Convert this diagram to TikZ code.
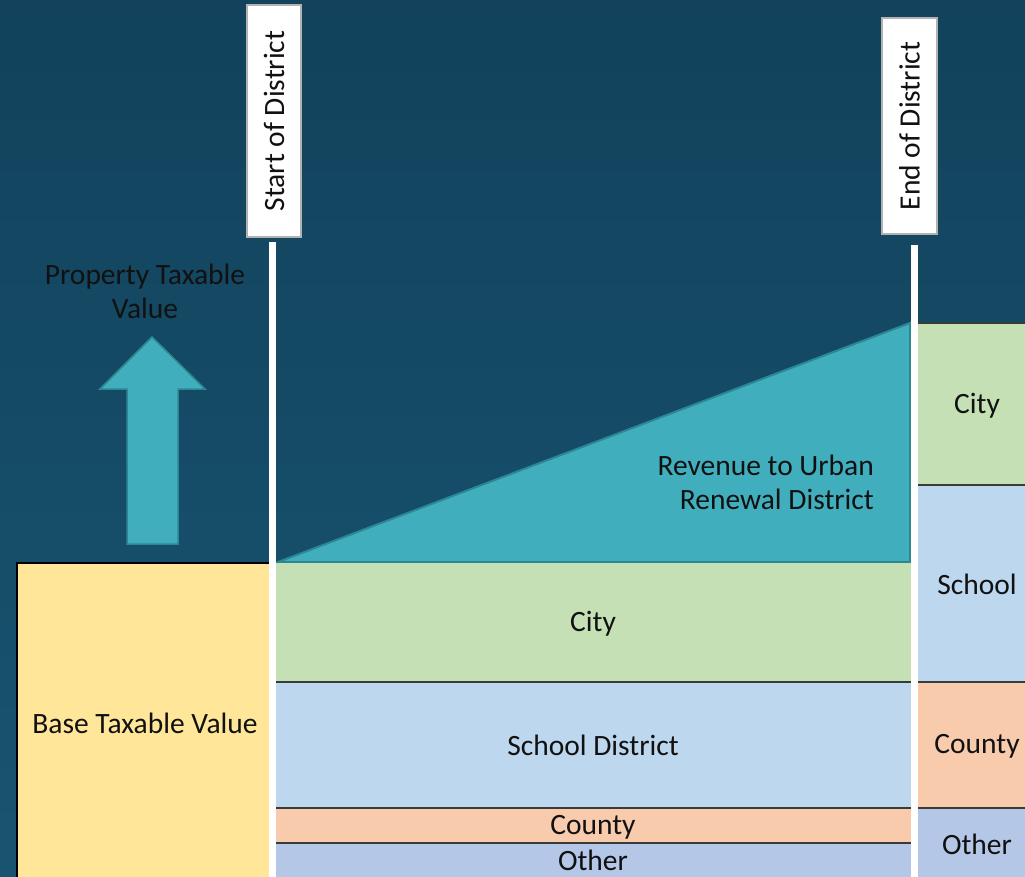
\documentclass[tikz,border=0pt]{standalone}
\usepackage{fontspec}
\setmainfont{Carlito}
\definecolor{bgtop}{HTML}{12425C}
\definecolor{bgbot}{HTML}{185470}
\definecolor{teal}{HTML}{41AEBD}
\definecolor{tealdark}{HTML}{2C8794}
\definecolor{citygreen}{HTML}{C5E0B4}
\definecolor{schoolblue}{HTML}{BDD7EE}
\definecolor{countypeach}{HTML}{F8CBAD}
\definecolor{otherblue}{HTML}{B4C7E7}
\definecolor{baseyellow}{HTML}{FFE699}
\definecolor{sepline}{HTML}{3A3A3A}
\definecolor{ink}{HTML}{111111}
\begin{document}
\begin{tikzpicture}[x=1pt,y=-1pt,font=\fontsize{29.5}{34}\selectfont]
\tikzset{
  band/.style={rectangle, inner sep=0pt, outer sep=0pt, anchor=north west},
  sepl/.style={draw=sepline, line width=1.6pt},
  marker/.style={draw=white, line width=6.5pt},
  tag/.style={rectangle, draw=gray!60, fill=white, line width=1.2pt,
              rotate=90, inner sep=0pt, text=ink},
  label/.style={text=ink, align=center, inner sep=0pt}
}
\useasboundingbox (0,0) rectangle (1025,877);
\shade[top color=bgtop, bottom color=bgbot] (0,0) rectangle (1025,877);

% rising value wedge captured by the district
\draw[fill=teal, draw=tealdark, line width=2pt]
  (278,562) -- (910,323) -- (910,562) -- cycle;
\node[label, anchor=east, align=right] (rev) at (874,482)
  {Revenue to Urban\\Renewal District};

% base value split among taxing bodies
\node[band, fill=citygreen, minimum width=635pt, minimum height=119pt] (city) at (276,563) {};
\node[band, fill=schoolblue, minimum width=635pt, minimum height=126pt] (school) at (276,682) {};
\node[band, fill=countypeach, minimum width=635pt, minimum height=35pt] (county) at (276,808) {};
\node[band, fill=otherblue, minimum width=635pt, minimum height=36pt] (other) at (276,843) {};
\draw[sepl] (city.south west) -- (city.south east);
\draw[sepl] (school.south west) -- (school.south east);
\draw[sepl] (county.south west) -- (county.south east);
\node[label] (citytxt) at (593,624) {City};
\node[label] (schooltxt) at (593,745) {School District};
\node[label] (countytxt) at (593,827) {County};
\node[label] (othertxt) at (593,860) {Other};

% column after the district ends
\node[band, fill=citygreen, minimum width=110pt, minimum height=162pt] (rcity) at (918,323) {};
\node[band, fill=schoolblue, minimum width=110pt, minimum height=197pt] (rschool) at (918,485) {};
\node[band, fill=countypeach, minimum width=110pt, minimum height=126pt] (rcounty) at (918,682) {};
\node[band, fill=otherblue, minimum width=110pt, minimum height=71pt] (rother) at (918,808) {};
\draw[sepl] (rcity.north west) -- (rcity.north east);
\draw[sepl] (rcity.south west) -- (rcity.south east);
\draw[sepl] (rschool.south west) -- (rschool.south east);
\draw[sepl] (rcounty.south west) -- (rcounty.south east);
\node[label] (rcitytxt) at (977,406) {City};
\node[label] (rschooltxt) at (977,584) {School};
\node[label] (rcountytxt) at (977,746) {County};
\node[label] (rothertxt) at (977,844) {Other};

% base taxable value block
\node[band, fill=baseyellow, draw=black, line width=1.8pt,
      minimum width=255pt, minimum height=320pt] (base) at (17,563) {};
\node[label] (basetxt) at (145,723) {Base Taxable Value};

% upward arrow and its caption
\draw[fill=teal, draw=tealdark, line width=1.5pt]
  (152,337) -- (100,389) -- (127,389) -- (127,544) -- (178,544)
  -- (178,389) -- (205,389) -- cycle;
\node[label] (ptv) at (145,291) {Property Taxable\\Value};

% district boundaries
\coordinate (s0) at (272.5,242);
\coordinate (s1) at (272.5,880);
\coordinate (e0) at (914.5,245);
\coordinate (e1) at (914.5,880);
\draw[marker] (s0) -- (s1);
\draw[marker] (e0) -- (e1);
\node[tag, minimum width=232pt, minimum height=54pt] (start) at (274,121) {Start of District};
\node[tag, minimum width=216pt, minimum height=55pt] (end) at (909.5,126) {End of District};
\end{tikzpicture}
\end{document}
